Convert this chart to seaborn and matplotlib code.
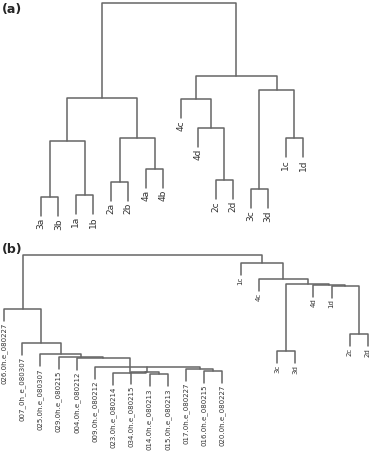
import matplotlib
matplotlib.use("Agg")
import matplotlib.pyplot as plt
import pandas as pd
import seaborn as sns

sns.set_style("white")
plt.rcParams["font.family"] = ["DejaVu Sans"]

# (a) leaves in plotted order, merges (leaf label or 1-based merge number) and heights
labels_a = ["3a", "3b", "1a", "1b", "2a", "2b", "4a", "4b",
            "4c", "4d", "2c", "2d", "3c", "3d", "1c", "1d"]
merge_a = [("3a", "3b"), ("1a", "1b"), (1, 2), ("2a", "2b"), ("4a", "4b"),
           (4, 5), (3, 6), ("2c", "2d"), ("4d", 8), ("4c", 9),
           ("3c", "3d"), ("1c", "1d"), (11, 12), (10, 13), (7, 14)]
height_a = [0.23, 0.25, 0.79, 0.38, 0.51, 0.82, 1.22, 0.40, 0.92, 1.21,
            0.31, 0.82, 1.30, 1.44, 2.17]

# (b)
labels_b = ["026.0h.e_080227", "007_0h_e_080307", "025.0h.e_080307",
            "029.0h.e_080215", "004.0h.e_080212", "009.0h.e_080212",
            "023.0h.e_080214", "034.0h.e_080215", "014.0h.e_080213",
            "015.0h.e_080213", "017.0h.e_080227", "016.0h.e_080215",
            "020.0h.e_080227", "1c", "4c", "3c", "3d", "4d", "1d", "2c", "2d"]
merge_b = [("014.0h.e_080213", "015.0h.e_080213"), ("034.0h.e_080215", 1),
           ("016.0h.e_080215", "020.0h.e_080227"), ("017.0h.e_080227", 3),
           ("009.0h.e_080212", 4), (2, 5), ("023.0h.e_080214", 6),
           ("004.0h.e_080212", 7), ("029.0h.e_080215", 8),
           ("025.0h.e_080307", 9), ("007_0h_e_080307", 10),
           ("026.0h.e_080227", 11), ("3c", "3d"), ("2c", "2d"), ("1d", 14),
           ("4d", 15), (13, 16), ("4c", 17), ("1c", 18), (12, 19)]
height_b = [0.26, 0.28, 0.29, 0.31, 0.33, 0.28, 0.27, 0.42, 0.43, 0.46,
            0.57, 0.91, 0.49, 0.66, 1.145, 1.155, 1.16, 1.21, 1.37, 1.45]


def draw_tree(ax, labels, merges, heights, hang, fs):
    pos = {lab: i for i, lab in enumerate(labels)}
    xs, hs = {}, {}
    rows = []
    leaf_ends = []
    for k, ((c1, c2), h) in enumerate(zip(merges, heights), start=1):
        pts = []
        for c in (c1, c2):
            if isinstance(c, str):
                x, hc = pos[c], h - hang
                leaf_ends.append((x, hc, c))
            else:
                x, hc = xs[c], hs[c]
            pts.append((x, hc))
        (x1, h1), (x2, h2) = pts
        for x, y in [(x1, h1), (x1, h), (x2, h), (x2, h2)]:
            rows.append({"x": x, "y": y, "seg": k})
        xs[k] = (x1 + x2) / 2
        hs[k] = h
    df = pd.DataFrame(rows)
    sns.lineplot(data=df, x="x", y="y", units="seg", estimator=None,
                 sort=False, color="#666666", linewidth=1.1, legend=False, ax=ax)
    for x, y, lab in leaf_ends:
        ax.text(x, y - 0.02, lab, rotation=90, ha="center", va="top",
                fontsize=fs, color="#333333", clip_on=False)
    ax.set_axis_off()


fig = plt.figure(figsize=(3.73, 4.53), dpi=100)

ax_a = fig.add_axes([0, 233 / 453, 1, 220 / 453])
draw_tree(ax_a, labels_a, merge_a, height_a, hang=0.19, fs=6.5)
ax_a.set_xlim(-41 / 17.47, 332 / 17.47)
ax_a.set_ylim(0, 2.2)

ax_b = fig.add_axes([0, 53 / 453, 1, 150 / 453])
draw_tree(ax_b, labels_b, merge_b, height_b, hang=0.12, fs=5.0)
ax_b.set_xlim(-4 / 18.2, 369 / 18.2)
ax_b.set_ylim(0, 1.5)

fig.text(0.005, 1 - 10 / 453, "(a)", fontsize=9, fontweight="bold", va="center")
fig.text(0.005, 1 - 249 / 453, "(b)", fontsize=9, fontweight="bold", va="center")

fig.savefig("out.png", dpi=100)
